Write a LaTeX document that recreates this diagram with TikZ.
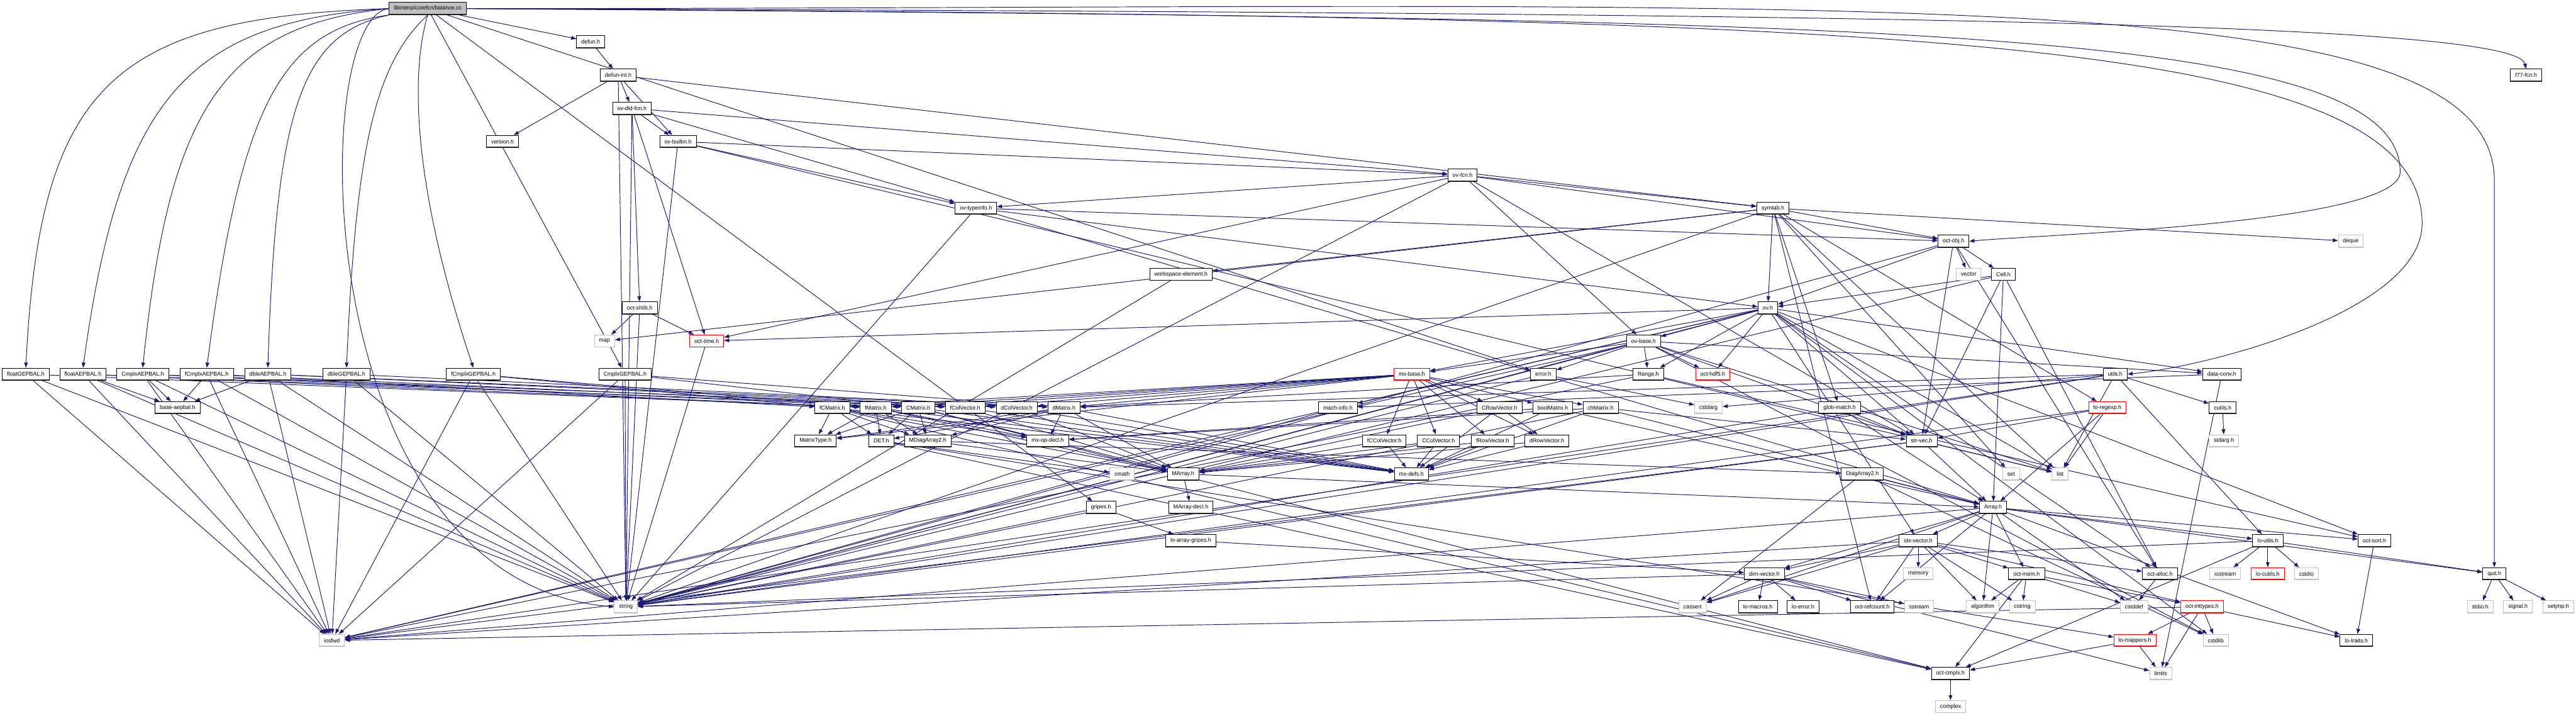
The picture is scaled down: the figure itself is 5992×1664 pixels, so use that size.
\documentclass[tikz,border=0pt]{standalone}
\usepackage{fontspec}
\newfontfamily\labfont{Liberation Sans}
\usetikzlibrary{arrows.meta,backgrounds}
\definecolor{edgec}{RGB}{25,25,112}
\definecolor{sysgray}{RGB}{191,191,191}
\definecolor{rootfill}{RGB}{191,191,191}
\begin{document}
\begin{tikzpicture}[x=0.01cm, y=-0.01cm,
  bot/.style={path picture={\draw[line width=1.1pt,#1] (path picture bounding box.south west) -- (path picture bounding box.south east);}},
  hdr/.style={draw=black, fill=white, line width=0.35pt, font=\labfont\fontsize{3.7}{4.4}\selectfont,
    inner xsep=0.11cm, inner ysep=0pt, minimum height=0.285cm, anchor=center, bot=black!75},
  sys/.style={hdr, draw=sysgray, bot=sysgray},
  trunc/.style={hdr, draw=red, bot=red},
  rootnd/.style={hdr, fill=rootfill},
  dep/.style={draw=edgec, line width=0.4pt, -{Triangle[length=1.2mm,width=0.85mm]}}
]
\useasboundingbox (0,0) rectangle (5992,1664);

% rank 0-6
\node[rootnd] (root) at (995,20) {libinterp/corefcn/balance.cc};
\node[hdr] (defun) at (1374,97) {defun.h};
\node[hdr] (f77) at (5876,175) {f77-fcn.h};
\node[hdr] (defunint) at (1438,175) {defun-int.h};
\node[hdr] (ovdld) at (1470,252) {ov-dld-fcn.h};
\node[hdr] (version) at (1169,329) {version.h};
\node[hdr] (ovbuiltin) at (1577,329) {ov-builtin.h};
\node[hdr] (ovfcn) at (3402,407) {ov-fcn.h};
\node[hdr] (ovtypeinfo) at (2270,484) {ov-typeinfo.h};
\node[hdr] (symtab) at (4124,484) {symtab.h};
% rank 7-10
\node[hdr] (octobj) at (4544,561) {oct-obj.h};
\node[sys] (deque) at (5468,561) {deque};
\node[hdr] (wselem) at (2747,638) {workspace-element.h};
\node[sys] (vector) at (4579,638) {vector};
\node[hdr] (cell) at (4660,638) {Cell.h};
\node[hdr] (octshlib) at (1488,716) {oct-shlib.h};
\node[hdr] (ov) at (4112,716) {ov.h};
\node[sys] (map) at (1406,793) {map};
\node[trunc] (octtime) at (1644,793) {oct-time.h};
\node[hdr] (ovbase) at (3823,793) {ov-base.h};
% rank 11
\node[hdr] (floatGEP) at (60,870) {floatGEPBAL.h};
\node[hdr] (floatAEP) at (193,870) {floatAEPBAL.h};
\node[hdr] (CmplxAEP) at (332,870) {CmplxAEPBAL.h};
\node[hdr] (fCmplxAEP) at (481,870) {fCmplxAEPBAL.h};
\node[hdr] (dbleAEP) at (623,870) {dbleAEPBAL.h};
\node[hdr] (dbleGEP) at (806,870) {dbleGEPBAL.h};
\node[hdr] (fCmplxGEP) at (1101,870) {fCmplxGEPBAL.h};
\node[hdr] (CmplxGEP) at (1454,870) {CmplxGEPBAL.h};
\node[trunc] (mxbase) at (3284,870) {mx-base.h};
\node[hdr] (error) at (3590,870) {error.h};
\node[hdr] (range) at (3834,870) {Range.h};
\node[trunc] (hdf5) at (3984,870) {oct-hdf5.h};
\node[hdr] (utils) at (4920,870) {utils.h};
\node[hdr] (dataconv) at (5168,870) {data-conv.h};
% rank 12
\node[hdr] (baseaep) at (413,948) {base-aepbal.h};
\node[hdr] (fCMatrix) at (1936,948) {fCMatrix.h};
\node[hdr] (fMatrix) at (2037,948) {fMatrix.h};
\node[hdr] (CMatrix) at (2136,948) {CMatrix.h};
\node[hdr] (fColVector) at (2245,948) {fColVector.h};
\node[hdr] (dColVector) at (2365,948) {dColVector.h};
\node[hdr] (dMatrix) at (2475,948) {dMatrix.h};
\node[hdr] (machinfo) at (3112,948) {mach-info.h};
\node[hdr] (CRowVector) at (3488,948) {CRowVector.h};
\node[hdr] (boolMatrix) at (3612,948) {boolMatrix.h};
\node[hdr] (chMatrix) at (3723,948) {chMatrix.h};
\node[sys] (cstdarg) at (3974,948) {cstdarg};
\node[hdr] (globmatch) at (4279,948) {glob-match.h};
\node[trunc] (regexp) at (4902,948) {lo-regexp.h};
\node[hdr] (cutils) at (5170,948) {cutils.h};
% rank 13
\node[hdr] (MatrixType) at (1897,1025) {MatrixType.h};
\node[hdr] (DET) at (2050,1025) {DET.h};
\node[hdr] (MDiag) at (2158,1025) {MDiagArray2.h};
\node[hdr] (mxopdecl) at (2437,1025) {mx-op-decl.h};
\node[hdr] (fCColVector) at (3220,1025) {fCColVector.h};
\node[hdr] (CColVector) at (3346,1025) {CColVector.h};
\node[hdr] (fRowVector) at (3472,1025) {fRowVector.h};
\node[hdr] (dRowVector) at (3598,1025) {dRowVector.h};
\node[hdr] (strvec) at (4470,1025) {str-vec.h};
\node[sys] (stdargh) at (5173,1025) {stdarg.h};
% rank 14
\node[sys] (cmath) at (2610,1102) {cmath};
\node[hdr] (MArray) at (2752,1102) {MArray.h};
\node[hdr] (mxdefs) at (3283,1102) {mx-defs.h};
\node[hdr] (DiagArray2) at (4332,1102) {DiagArray2.h};
\node[sys] (set) at (4678,1102) {set};
\node[sys] (list) at (4792,1102) {list};
% rank 15
\node[hdr] (gripes) at (2561,1180) {gripes.h};
\node[hdr] (MArraydecl) at (2770,1180) {MArray-decl.h};
\node[hdr] (Array) at (4636,1180) {Array.h};
% rank 16
\node[hdr] (lagripes) at (2770,1257) {lo-array-gripes.h};
\node[hdr] (idxvector) at (4462,1257) {idx-vector.h};
\node[hdr] (loutils) at (5275,1257) {lo-utils.h};
\node[hdr] (octsort) at (5523,1257) {oct-sort.h};
% rank 17
\node[hdr] (dimvector) at (4104,1334) {dim-vector.h};
\node[sys] (memory) at (4462,1334) {memory};
\node[hdr] (octmem) at (4714,1334) {oct-mem.h};
\node[hdr] (octalloc) at (5024,1334) {oct-alloc.h};
\node[sys] (iostream) at (5176,1334) {iostream};
\node[trunc] (locutils) at (5275,1334) {lo-cutils.h};
\node[sys] (cstdio) at (5365,1334) {cstdio};
\node[hdr] (quit) at (5802,1334) {quit.h};
% rank 18
\node[sys] (string) at (1456,1411) {string};
\node[sys] (cassert) at (3937,1411) {cassert};
\node[hdr] (lomacros) at (4089,1411) {lo-macros.h};
\node[hdr] (loerror) at (4194,1411) {lo-error.h};
\node[hdr] (refcount) at (4355,1411) {oct-refcount.h};
\node[sys] (sstream) at (4464,1411) {sstream};
\node[sys] (algorithm) at (4612,1411) {algorithm};
\node[sys] (cstring) at (4704,1411) {cstring};
\node[sys] (cstddef) at (4964,1411) {cstddef};
\node[trunc] (inttypes) at (5122,1411) {oct-inttypes.h};
\node[sys] (stdioh) at (5769,1411) {stdio.h};
\node[sys] (signalh) at (5857,1411) {signal.h};
\node[sys] (setjmph) at (5951,1411) {setjmp.h};
% rank 19-21
\node[sys] (iosfwd) at (772,1489) {iosfwd};
\node[trunc] (lomappers) at (4966,1489) {lo-mappers.h};
\node[sys] (cstdlib) at (5154,1489) {cstdlib};
\node[hdr] (lotraits) at (5481,1489) {lo-traits.h};
\node[hdr] (octcmplx) at (4537,1566) {oct-cmplx.h};
\node[sys] (limits) at (5026,1566) {limits};
\node[sys] (complex) at (4537,1643) {complex};

\coordinate (qw) at (5802,420);
\coordinate (ow) at (5583,400);
\coordinate (uw) at (5634,520);

\begin{scope}[on background layer]
\fill[white] (0,0) rectangle (5992,1664);
% edges of the root file
\draw[dep] (root.west) .. controls (260,40) and (93,200) .. (floatGEP.north);
\draw[dep] (root.west) .. controls (420,50) and (277,250) .. (floatAEP.north);
\draw[dep] (root.west) .. controls (520,60) and (394,250) .. (CmplxAEP.north);
\draw[dep] (root.south west) .. controls (650,70) and (560,250) .. (fCmplxAEP.north);
\draw[dep] (root.south west) .. controls (700,80) and (643,250) .. (dbleAEP.north);
\draw[dep] (root.south) .. controls (870,150) and (828,350) .. (dbleGEP.north);
\draw[dep] (root.south) .. controls (960,150) and (949,400) .. (fCmplxGEP.north);
\draw[dep] (root.west) .. controls (714,40) and (714,1350) .. (string.west);
\draw[dep] (root.east) .. controls (4300,30) and (5850,50) .. (f77.north);
\draw[dep] (root.east) .. controls (4300,20) and (5802,-60) .. (qw) -- (quit.north);
\draw[dep] (root.east) .. controls (4300,45) and (5583,50) .. (ow) .. controls (5583,520) and (4750,545) .. (octobj.east);
\draw[dep] (root.east) .. controls (4300,40) and (5634,60) .. (uw) .. controls (5634,720) and (5150,850) .. (utils.east);
\foreach \src/\dst in {root/CmplxGEP, root/defun, root/error, root/gripes,
  defun/defunint,
  defunint/string, defunint/ovbuiltin, defunint/ovdld, defunint/symtab, defunint/version,
  ovdld/string, ovdld/octshlib, ovdld/octtime, ovdld/ovfcn, ovdld/ovbuiltin, ovdld/ovtypeinfo,
  ovbuiltin/list, ovbuiltin/string, ovbuiltin/ovfcn, ovbuiltin/ovtypeinfo,
  ovfcn/string, ovfcn/octtime, ovfcn/strvec, ovfcn/octobj, ovfcn/ovbase, ovfcn/ovtypeinfo, ovfcn/symtab,
  ovtypeinfo/string, ovtypeinfo/Array, ovtypeinfo/octobj, ovtypeinfo/ov,
  symtab/deque, symtab/list, symtab/map, symtab/set, symtab/string, symtab/globmatch, symtab/regexp,
  symtab/octobj, symtab/wselem, symtab/refcount, symtab/ov,
  wselem/string,
  octobj/string, octobj/vector, octobj/octalloc, octobj/strvec, octobj/cell, octobj/ov,
  cell/string, cell/Array, cell/octalloc, cell/strvec, cell/ov,
  octshlib/string, octshlib/map, octshlib/octtime,
  octtime/string,
  ov/cstdlib, ov/iosfwd, ov/string, ov/list, ov/range, ov/dataconv, ov/idxvector, ov/machinfo, ov/mxbase,
  ov/octalloc, ov/octtime, ov/strvec, ov/hdf5, ov/octsort, ov/ovbase,
  ovbase/cstdlib, ovbase/iosfwd, ovbase/list, ovbase/string, ovbase/range, ovbase/dataconv, ovbase/mxbase,
  ovbase/strvec, ovbase/error, ovbase/hdf5,
  mxbase/MatrixType, mxbase/boolMatrix, mxbase/chMatrix, mxbase/dMatrix, mxbase/CMatrix, mxbase/fMatrix,
  mxbase/fCMatrix, mxbase/dColVector, mxbase/CColVector, mxbase/fColVector, mxbase/fCColVector,
  mxbase/dRowVector, mxbase/CRowVector, mxbase/fRowVector,
  error/cstdarg, error/string,
  range/iosfwd, range/dMatrix, range/octsort,
  dataconv/limits, dataconv/machinfo,
  machinfo/string,
  utils/cstdarg, utils/iosfwd, utils/string, utils/list, utils/dMatrix, utils/loutils, utils/cutils,
  cutils/stdargh,
  globmatch/string, globmatch/Array, globmatch/strvec,
  regexp/list, regexp/string, regexp/Array, regexp/strvec,
  strvec/iosfwd, strvec/list, strvec/string, strvec/Array,
  floatGEP/iosfwd, floatGEP/string, floatGEP/fMatrix,
  floatAEP/iosfwd, floatAEP/string, floatAEP/baseaep, floatAEP/fMatrix, floatAEP/fColVector,
  CmplxAEP/iosfwd, CmplxAEP/string, CmplxAEP/baseaep, CmplxAEP/CMatrix, CmplxAEP/dColVector,
  fCmplxAEP/iosfwd, fCmplxAEP/string, fCmplxAEP/baseaep, fCmplxAEP/fCMatrix, fCmplxAEP/fColVector,
  dbleAEP/iosfwd, dbleAEP/string, dbleAEP/baseaep, dbleAEP/dMatrix, dbleAEP/dColVector,
  dbleGEP/iosfwd, dbleGEP/string, dbleGEP/dMatrix,
  fCmplxGEP/iosfwd, fCmplxGEP/string, fCmplxGEP/fCMatrix, fCmplxGEP/fMatrix,
  CmplxGEP/iosfwd, CmplxGEP/string, CmplxGEP/CMatrix, CmplxGEP/dMatrix,
  fCMatrix/MArray, fCMatrix/MDiag, fCMatrix/MatrixType, fCMatrix/mxdefs, fCMatrix/mxopdecl, fCMatrix/DET, fCMatrix/octcmplx,
  fMatrix/MArray, fMatrix/MDiag, fMatrix/MatrixType, fMatrix/mxdefs, fMatrix/mxopdecl, fMatrix/DET,
  CMatrix/MArray, CMatrix/MDiag, CMatrix/MatrixType, CMatrix/mxdefs, CMatrix/mxopdecl, CMatrix/DET, CMatrix/octcmplx,
  dMatrix/MArray, dMatrix/MDiag, dMatrix/MatrixType, dMatrix/mxdefs, dMatrix/mxopdecl, dMatrix/DET,
  fColVector/MArray, fColVector/mxdefs,
  dColVector/MArray, dColVector/mxdefs,
  CRowVector/MArray, CRowVector/dRowVector, CRowVector/mxdefs,
  boolMatrix/Array, boolMatrix/mxdefs, boolMatrix/mxopdecl,
  chMatrix/string, chMatrix/Array, chMatrix/mxdefs, chMatrix/mxopdecl, chMatrix/strvec,
  fCColVector/MArray, fCColVector/mxdefs,
  CColVector/MArray, CColVector/mxdefs,
  fRowVector/MArray, fRowVector/mxdefs,
  dRowVector/MArray, dRowVector/mxdefs,
  DET/cmath, DET/octcmplx, DET/lomappers,
  MDiag/DiagArray2, MDiag/MArray,
  MArray/Array, MArray/MArraydecl,
  DiagArray2/cassert, DiagArray2/cstdlib, DiagArray2/Array,
  gripes/string, gripes/lagripes,
  lagripes/dimvector,
  Array/cassert, Array/cstddef, Array/algorithm, Array/iosfwd, Array/dimvector, Array/idxvector,
  Array/lotraits, Array/loutils, Array/octsort, Array/quit, Array/octmem, Array/refcount,
  idxvector/cassert, idxvector/cstring, idxvector/algorithm, idxvector/iosfwd, idxvector/memory,
  idxvector/dimvector, idxvector/inttypes, idxvector/octalloc, idxvector/octmem, idxvector/refcount,
  dimvector/cassert, dimvector/limits, dimvector/sstream, dimvector/string, dimvector/loerror,
  dimvector/lomacros, dimvector/refcount,
  loutils/cstdio, loutils/iostream, loutils/string, loutils/quit, loutils/locutils, loutils/octcmplx,
  octsort/lotraits,
  octmem/cstddef, octmem/cstring, octmem/algorithm, octmem/octcmplx, octmem/inttypes,
  octalloc/cstddef,
  quit/stdioh, quit/signalh, quit/setjmph,
  inttypes/cstdlib, inttypes/limits, inttypes/lomappers, inttypes/lotraits, inttypes/iosfwd,
  lomappers/octcmplx, lomappers/limits,
  octcmplx/complex}
  {\draw[dep] (\src) -- (\dst);}
\end{scope}
\end{tikzpicture}
\end{document}
